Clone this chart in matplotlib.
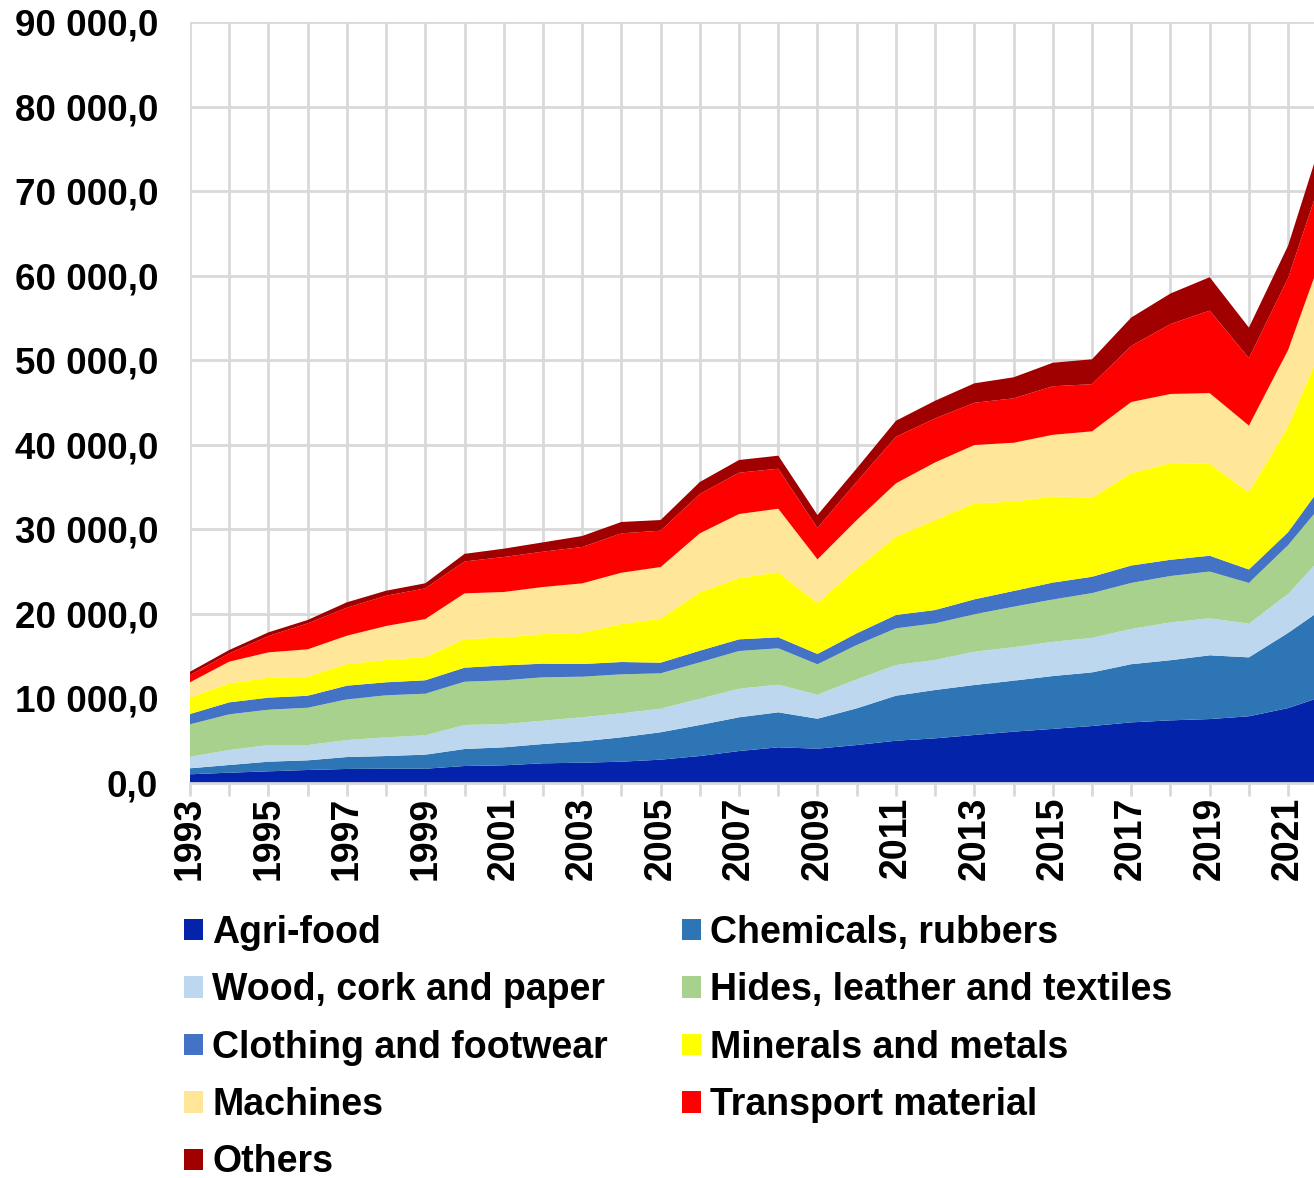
import numpy as np
import matplotlib.pyplot as plt
from matplotlib.patches import Patch
from matplotlib.ticker import FuncFormatter, MultipleLocator

plt.rcParams['font.family'] = ['Liberation Sans', 'DejaVu Sans']
plt.rcParams['font.weight'] = 'bold'

years = np.arange(1993, 2023)

labels = ["Agri-food", "Chemicals, rubbers", "Wood, cork and paper",
          "Hides, leather and textiles", "Clothing and footwear",
          "Minerals and metals", "Machines", "Transport material", "Others"]
colors = ["#0323AA", "#2E75B6", "#BDD7EE", "#A9D18E", "#4472C4",
          "#FFFF00", "#FFE699", "#FF0000", "#A00000"]

# values per category, 1993..2022
agri = [1030, 1220, 1380, 1540, 1660, 1690, 1690, 2010, 2090, 2330,
        2400, 2520, 2760, 3190, 3780, 4220, 4060, 4490, 5000, 5280,
        5680, 6070, 6400, 6740, 7170, 7410, 7560, 7890, 8860, 10420]
chemicals = [710, 910, 1140, 1140, 1410, 1500, 1660, 2010, 2130, 2280,
             2530, 2880, 3240, 3670, 3990, 4140, 3540, 4340, 5320, 5720,
             5910, 6030, 6250, 6340, 6880, 7110, 7540, 6970, 8890, 10560]
wood = [1370, 1770, 1970, 1810, 2010, 2210, 2290, 2840, 2740, 2760,
        2840, 2840, 2790, 3110, 3380, 3270, 2840, 3430, 3630, 3550,
        3940, 3950, 4050, 4090, 4170, 4470, 4380, 3990, 4610, 6410]
hides = [3830, 4220, 4180, 4410, 4810, 4970, 4920, 5120, 5180, 5130,
         4800, 4610, 4180, 4300, 4460, 4300, 3600, 4060, 4340, 4330,
         4420, 4800, 5000, 5290, 5440, 5490, 5530, 4810, 5770, 6300]
clothing = [1220, 1420, 1420, 1420, 1620, 1540, 1590, 1660, 1770, 1610,
            1500, 1460, 1260, 1380, 1380, 1300, 1220, 1380, 1580, 1580,
            1770, 1860, 2000, 1930, 2060, 1920, 1870, 1590, 1540, 2360]
minerals = [1970, 2250, 2360, 2250, 2560, 2640, 2750, 3390, 3300, 3510,
            3700, 4490, 5200, 6900, 7250, 7690, 6030, 7690, 9260, 10640,
            11360, 10560, 10200, 9360, 10920, 11440, 10870, 9130, 12500, 17010]
machines = [1780, 2560, 3000, 3240, 3350, 4020, 4490, 5400, 5380, 5560,
            5840, 6070, 6110, 6980, 7570, 7520, 5160, 5710, 6310, 6820,
            6890, 6970, 7280, 7840, 8420, 8170, 8360, 7890, 9040, 11070]
transport = [860, 980, 1930, 3070, 3310, 3580, 3630, 3770, 4140, 4180,
             4300, 4660, 4300, 4650, 4890, 4730, 3710, 4530, 5510, 5200,
             5000, 5250, 5740, 5580, 6630, 8270, 9760, 7980, 8510, 9480]
others = [390, 400, 440, 400, 640, 590, 600, 900, 980, 1100,
          1300, 1340, 1260, 1420, 1500, 1540, 1530, 1580, 1890, 2090,
          2300, 2490, 2780, 2940, 3360, 3610, 3950, 3610, 3840, 4590]

series = [agri, chemicals, wood, hides, clothing, minerals, machines,
          transport, others]

fig = plt.figure(figsize=(13.14, 11.78), dpi=100)
ax = fig.add_axes([190 / 1314, 1 - 783 / 1178, 1 - 190 / 1314, 761 / 1178])

ax.stackplot(years, *series, colors=colors, linewidth=0)

ax.set_xlim(1993, 2021.66)
ax.set_ylim(0, 90000)
ax.set_axisbelow(True)
ax.grid(True, color="#D9D9D9", linewidth=2)

ax.set_xticks(years[:-1])
ax.set_xticklabels([str(y) if (y - 1993) % 2 == 0 else "" for y in years[:-1]],
                   rotation=90, fontsize=27, fontweight='bold')
ax.yaxis.set_major_locator(MultipleLocator(10000))
ax.yaxis.set_major_formatter(FuncFormatter(
    lambda v, p: "{:,.1f}".format(v).replace(",", " ").replace(".", ",")))
ax.tick_params(axis='y', length=0, pad=23, labelsize=26.5)
ax.tick_params(axis='x', length=9, width=2, color="#D9D9D9", pad=1)

for s in ["top", "right", "left"]:
    ax.spines[s].set_visible(False)
ax.spines["bottom"].set_color("#D9D9D9")
ax.spines["bottom"].set_linewidth(2)

# legend: matplotlib fills column by column
order = [0, 2, 4, 6, 8, 1, 3, 5, 7]
handles = [Patch(facecolor=colors[i], edgecolor='none') for i in order]
fig.legend(handles, [labels[i] for i in order], ncol=2,
           loc='upper left', bbox_to_anchor=(184 / 1314, 1 - 915 / 1178),
           frameon=False, fontsize=27, handlelength=0.5, handleheight=0.5,
           handletextpad=0.25, labelspacing=0.57, columnspacing=1.97,
           borderaxespad=0, borderpad=0)

fig.savefig("out.png", dpi=100)
